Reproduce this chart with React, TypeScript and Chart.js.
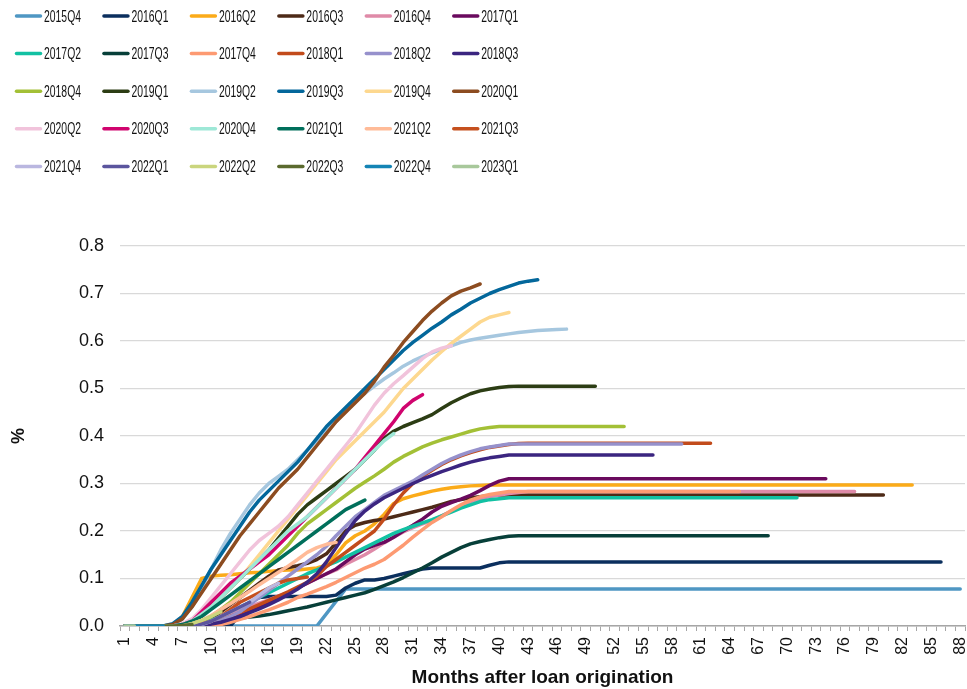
import { useEffect, useRef } from "react";
import { Chart, registerables } from "chart.js";

Chart.register(...registerables);

const FONT = '"Liberation Sans", Arial, Helvetica, sans-serif';

// Months after loan origination (categories)
const months = [
  "1","2","3","4","5","6","7","8","9","10","11","12","13","14","15","16","17","18","19","20",
  "21","22","23","24","25","26","27","28","29","30","31","32","33","34","35","36","37","38","39","40",
  "41","42","43","44","45","46","47","48","49","50","51","52","53","54","55","56","57","58","59","60",
  "61","62","63","64","65","66","67","68","69","70","71","72","73","74","75","76","77","78","79","80",
  "81","82","83","84","85","86","87","88",
];

const yTicks = [0, 0.1, 0.2, 0.3, 0.4, 0.5, 0.6, 0.7, 0.8];

const cohorts = [
  "2015Q4","2016Q1","2016Q2","2016Q3","2016Q4","2017Q1",
  "2017Q2","2017Q3","2017Q4","2018Q1","2018Q2","2018Q3",
  "2018Q4","2019Q1","2019Q2","2019Q3","2019Q4","2020Q1",
  "2020Q2","2020Q3","2020Q4","2021Q1","2021Q2","2021Q3",
  "2021Q4","2022Q1","2022Q2","2022Q3","2022Q4","2023Q1",
];

const colors = [
  "#4f97c3","#0b2f5e","#fbab19","#4d2a17","#df8aa8","#6a0a5e",
  "#12c1a3","#073f39","#fd9a72","#c24b1b","#9691cc","#3b2580",
  "#a3c036","#2c3d14","#a6c7df","#03679b","#fdd88f","#8c4c20",
  "#f1c3db","#d0046e","#9ee8d7","#006f5b","#ffbb98","#c5501e",
  "#bab7e0","#5b559e","#cad57d","#5b6a2e","#1484b5","#a8c89b",
];

const s2015Q4 = [
  0,0,0,0,0,0,0,0,0,0, 0,0,0,0,0,0,0,0,0,0, 0, null, null,
  0.078,0.078,0.078,0.078,0.078, 0.078,0.078,0.078,0.078,0.078, 0.078,0.078,0.078,0.078,0.078,
  0.078,0.078,0.078,0.078,0.078, 0.078,0.078,0.078,0.078,0.078, 0.078,0.078,0.078,0.078,0.078,
  0.078,0.078,0.078,0.078,0.078, 0.078,0.078,0.078,0.078,0.078, 0.078,0.078,0.078,0.078,0.078,
  0.078,0.078,0.078,0.078,0.078, 0.078,0.078,0.078,0.078,0.078, 0.078,0.078,0.078,0.078,0.078,
  0.078,0.078,0.078,0.078,0.078,
];
const s2016Q1 = [
  0,0,0,0,0,0,0,0,0,0, 0,0, 0.025,0.05,0.06,
  0.062,0.062,0.062,0.062,0.062,0.062,0.062,
  0.065,0.08,0.09,0.097,0.097,0.1,0.105,0.11,0.115,0.12,
  0.122,0.122,0.122,0.122,0.122,0.122, 0.128,0.133,
  0.135,0.135,0.135,0.135,0.135, 0.135,0.135,0.135,0.135,0.135, 0.135,0.135,0.135,0.135,0.135,
  0.135,0.135,0.135,0.135,0.135, 0.135,0.135,0.135,0.135,0.135, 0.135,0.135,0.135,0.135,0.135,
  0.135,0.135,0.135,0.135,0.135, 0.135,0.135,0.135,0.135,0.135, 0.135,0.135,0.135,0.135,0.135,
  0.135,
];
const s2016Q2 = [
  0,0,0,0,0,0, 0.02,0.06,0.1,0.105,0.107,0.108,0.11,0.112,0.113,0.115,0.117,0.118,0.118,0.12,
  0.122,0.128,0.15,0.175,0.19,0.2,0.215,0.235,0.258,0.268,0.274,0.279,0.284,0.288,0.291,0.293,
  0.295,0.296,
  0.297,0.297,0.297,0.297,0.297, 0.297,0.297,0.297,0.297,0.297, 0.297,0.297,0.297,0.297,0.297,
  0.297,0.297,0.297,0.297,0.297, 0.297,0.297,0.297,0.297,0.297, 0.297,0.297,0.297,0.297,0.297,
  0.297,0.297,0.297,0.297,0.297, 0.297,0.297,0.297,0.297,0.297, 0.297,0.297,0.297,0.297,0.297,
];
const s2016Q3 = [
  0,0,0,0,0,0,0,0, 0.005,0.015,0.03,0.045,0.06,0.075,0.09,0.105,0.118,0.123,0.127,0.132,
  0.14,0.152,0.175,0.2,0.212,0.218,0.222,0.225,0.23,0.235,0.24,0.245,0.25,0.256,0.262,0.266,
  0.27,0.272,0.274,
  0.276,0.276,0.276,0.276,0.276, 0.276,0.276,0.276,0.276,0.276, 0.276,0.276,0.276,0.276,0.276,
  0.276,0.276,0.276,0.276,0.276, 0.276,0.276,0.276,0.276,0.276, 0.276,0.276,0.276,0.276,0.276,
  0.276,0.276,0.276,0.276,0.276, 0.276,0.276,0.276,0.276,0.276, 0.276,
];
const s2016Q4 = [
  0,0,0,0,0,0,0,0, 0.005,0.01,0.018,0.025,0.033,0.04,0.048,0.055,0.063,0.07,0.08,0.09,
  0.1,0.11,0.118,0.13,0.14,0.15,0.162,0.175,0.187,0.198,0.207,0.215,0.222,0.232,0.242,0.252,
  0.262,0.268,0.273,0.276,0.279,0.281,
  0.283,0.283,0.283,0.283,0.283, 0.283,0.283,0.283,0.283,0.283, 0.283,0.283,0.283,0.283,0.283,
  0.283,0.283,0.283,0.283,0.283, 0.283,0.283,0.283,0.283,0.283, 0.283,0.283,0.283,0.283,0.283,
  0.283,0.283,0.283,0.283,0.283,
];
const s2017Q1 = [
  0,0,0,0,0,0,0,0,0, 0.005,0.01,0.017,0.025,0.033,0.042,0.05,0.06,0.07,0.08,0.09,
  0.1,0.11,0.12,0.135,0.15,0.162,0.17,0.176,0.187,0.2,0.212,0.225,0.24,0.252,0.26,0.267,
  0.275,0.285,0.296,0.305,
  0.31,0.31,0.31,0.31,0.31, 0.31,0.31,0.31,0.31,0.31, 0.31,0.31,0.31,0.31,0.31,
  0.31,0.31,0.31,0.31,0.31, 0.31,0.31,0.31,0.31,0.31, 0.31,0.31,0.31,0.31,0.31,
  0.31,0.31,0.31,0.31,
];
const s2017Q2 = [
  0,0,0,0,0,0,0,0, 0.005,0.012,0.02,0.03,0.04,0.05,0.06,0.07,0.08,0.09,0.1,0.11,
  0.118,0.127,0.135,0.145,0.155,0.165,0.175,0.185,0.195,0.203,0.21,0.217,0.224,0.232,0.24,0.248,
  0.255,0.262,0.266,0.268,
  0.27,0.27,0.27,0.27,0.27, 0.27,0.27,0.27,0.27,0.27, 0.27,0.27,0.27,0.27,0.27,
  0.27,0.27,0.27,0.27,0.27, 0.27,0.27,0.27,0.27,0.27, 0.27,0.27,0.27,0.27,0.27, 0.27,
];
const s2017Q3 = [
  0,0,0,0,0,0,0,0,0, 0.005,0.01,0.014,0.017,0.019,0.021,0.024,0.028,0.032,0.036,0.04,
  0.045,0.05,0.055,0.06,0.065,0.07,0.077,0.085,0.093,0.102,0.112,0.122,0.133,0.145,0.155,0.165,
  0.173,0.178,0.182,0.186,0.189,
  0.19,0.19,0.19,0.19,0.19, 0.19,0.19,0.19,0.19,0.19, 0.19,0.19,0.19,0.19,0.19,
  0.19,0.19,0.19,0.19,0.19, 0.19,0.19,0.19,0.19,0.19, 0.19,0.19,
];
const s2017Q4 = [
  0,0,0,0,0,0,0,0,0,0, 0.003,0.008,0.014,0.02,0.027,0.034,0.042,0.05,0.06,0.067,
  0.075,0.083,0.092,0.102,0.112,0.122,0.13,0.14,0.155,0.17,0.187,0.203,0.218,0.23,0.243,0.255,
  0.265,0.272,0.277,0.28,
  0.283,0.283,0.283,0.283,0.283, 0.283,0.283,0.283,0.283,0.283, 0.283,0.283,0.283,0.283,0.283,
  0.283,0.283,0.283,0.283,0.283, 0.283,0.283,0.283,0.283,0.283,
];
const s2018Q1 = [
  0,0,0,0,0,0,0,0,0, 0.005,0.012,0.02,0.028,0.036,0.045,0.054,0.063,0.072,0.082,0.092,
  0.105,0.125,0.14,0.155,0.17,0.185,0.2,0.225,0.255,0.28,0.3,0.315,0.328,0.34,0.35,0.358,
  0.365,0.371,0.376,0.379,0.382,0.384,
  0.385,0.385,0.385,0.385,0.385, 0.385,0.385,0.385,0.385,0.385,
  0.385,0.385,0.385,0.385,0.385, 0.385,0.385,0.385,0.385,0.385,
];
const s2018Q2 = [
  0,0,0,0,0,0,0,0,0, 0.005,0.012,0.02,0.03,0.045,0.06,0.075,0.09,0.105,0.12,0.135,
  0.15,0.168,0.19,0.21,0.23,0.245,0.26,0.275,0.285,0.295,0.305,0.318,0.33,0.342,0.352,0.36,
  0.367,0.373,0.377,0.38,
  0.383,0.383,0.383,0.383,0.383, 0.383,0.383,0.383,0.383,0.383,
  0.383,0.383,0.383,0.383,0.383, 0.383,0.383,0.383,0.383,
];
const s2018Q3 = [
  0,0,0,0,0,0,0,0,0, 0.004,0.008,0.014,0.02,0.028,0.036,0.045,0.055,0.066,0.078,0.092,
  0.11,0.135,0.165,0.195,0.222,0.242,0.257,0.27,0.28,0.29,0.3,0.309,0.317,0.325,0.332,0.339,
  0.345,0.35,0.354,0.357,
  0.36,0.36,0.36,0.36,0.36, 0.36,0.36,0.36,0.36,0.36, 0.36,0.36,0.36,0.36,0.36, 0.36,
];
const s2018Q4 = [
  0,0,0,0,0,0,0,0, 0.01,0.02,0.035,0.05,0.07,0.09,0.11,0.13,0.15,0.17,0.195,0.215,
  0.23,0.245,0.26,0.275,0.29,0.303,0.316,0.33,0.345,0.357,0.367,0.377,0.385,0.392,0.398,0.404,
  0.41,0.415,0.418,
  0.42,0.42,0.42,0.42,0.42, 0.42,0.42,0.42,0.42,0.42, 0.42,0.42,0.42,0.42,
];
const s2019Q1 = [
  0,0,0,0,0,0,0, 0.01,0.025,0.04,0.06,0.08,0.1,0.12,0.14,0.16,0.185,0.21,0.235,0.255,
  0.27,0.285,0.3,0.315,0.33,0.35,0.37,0.395,0.41,0.42,0.428,0.436,0.445,0.458,0.47,0.48,
  0.489,0.495,0.499,0.502,0.504,
  0.505,0.505,0.505,0.505,0.505, 0.505,0.505,0.505,0.505,
];
const s2019Q2 = [
  0,0,0,0,0, 0.003,0.015,0.04,0.08,0.12,0.16,0.195,0.225,0.255,0.28,0.3,0.315,0.33,0.35,0.37,
  0.39,0.41,0.43,0.455,0.475,0.49,0.505,0.52,0.533,0.547,0.558,0.567,0.575,0.583,0.59,0.597,
  0.602,0.606,0.609,0.612,0.615,0.618,0.62,0.622,0.623,0.624,0.625,
];
const s2019Q3 = [
  0,0,0,0,0, 0.005,0.02,0.05,0.085,0.12,0.15,0.18,0.21,0.24,0.265,0.285,0.305,0.325,0.345,0.37,
  0.395,0.42,0.44,0.46,0.48,0.5,0.52,0.54,0.56,0.58,0.597,0.612,0.627,0.64,0.655,0.667,
  0.68,0.69,0.7,0.708,0.715,0.722,0.726,0.729,
];
const s2019Q4 = [
  0,0,0,0,0,0, 0.003,0.01,0.025,0.04,0.06,0.08,0.1,0.125,0.15,0.175,0.2,0.225,0.25,0.275,
  0.3,0.325,0.35,0.37,0.39,0.41,0.43,0.45,0.475,0.5,0.52,0.54,0.56,0.578,0.595,0.61,
  0.625,0.64,0.65,0.655,0.66,
];
const s2020Q1 = [
  0,0,0,0,0, 0.003,0.015,0.04,0.07,0.1,0.13,0.16,0.19,0.215,0.24,0.265,0.29,0.31,0.33,0.355,
  0.38,0.405,0.43,0.45,0.47,0.49,0.515,0.545,0.57,0.597,0.62,0.643,0.663,0.68,0.695,0.705,
  0.712,0.72,
];
const s2020Q2 = [
  0,0,0,0,0,0, 0.005,0.015,0.035,0.06,0.085,0.11,0.135,0.16,0.18,0.195,0.21,0.23,0.255,0.28,
  0.305,0.33,0.355,0.38,0.405,0.435,0.465,0.49,0.51,0.527,0.545,0.563,0.577,0.585,0.59,
];
const s2020Q3 = [
  0,0,0,0,0,0, 0.003,0.01,0.03,0.05,0.07,0.09,0.105,0.12,0.135,0.15,0.17,0.19,0.21,0.23,
  0.25,0.27,0.29,0.31,0.33,0.355,0.38,0.405,0.43,0.458,0.475,0.487,
];
const s2020Q4 = [
  0,0,0,0,0,0, 0.003,0.01,0.025,0.04,0.06,0.08,0.1,0.12,0.14,0.16,0.18,0.2,0.215,0.23,
  0.25,0.27,0.29,0.31,0.33,0.35,0.37,0.39,0.405,
];
const s2021Q1 = [
  0,0,0,0,0,0, 0.003,0.01,0.02,0.035,0.05,0.065,0.08,0.095,0.11,0.125,0.14,0.155,0.17,0.185,
  0.2,0.215,0.23,0.245,0.255,0.265,
];
const s2021Q2 = [
  0,0,0,0,0,0,0, 0.005,0.012,0.022,0.035,0.047,0.06,0.073,0.087,0.1,0.113,0.126,0.14,0.155,
  0.165,0.172,0.176,
];
const s2021Q3 = [
  0,0,0,0,0,0,0,0, 0.005,0.01,0.02,0.035,0.05,0.06,0.07,0.08,0.09,0.097,0.1,0.103,
];
const s2021Q4 = [0,0,0,0,0,0,0,0, 0.003,0.01,0.02,0.03,0.04,0.05,0.065,0.08,0.09];
const s2022Q1 = [0,0,0,0,0,0,0,0, 0.004,0.01,0.02,0.03,0.04,0.05];
const s2022Q2 = [0,0,0,0,0,0,0, 0.005,0.012,0.02,0.03];
const s2022Q3 = [0,0,0,0,0,0, 0.001,0.003];
const s2022Q4 = [0,0,0,0,0];
const s2023Q1 = [0,0];

const seriesValues = [
  s2015Q4, s2016Q1, s2016Q2, s2016Q3, s2016Q4, s2017Q1,
  s2017Q2, s2017Q3, s2017Q4, s2018Q1, s2018Q2, s2018Q3,
  s2018Q4, s2019Q1, s2019Q2, s2019Q3, s2019Q4, s2020Q1,
  s2020Q2, s2020Q3, s2020Q4, s2021Q1, s2021Q2, s2021Q3,
  s2021Q4, s2022Q1, s2022Q2, s2022Q3, s2022Q4, s2023Q1,
];

const gridLegend = {
  id: "gridLegend",
  afterDraw(chart: any) {
    const ctx = chart.ctx;
    ctx.save();
    chart.data.datasets.forEach((ds: any, i: number) => {
      const col = i % 6;
      const row = Math.floor(i / 6);
      const x = 15 + col * 87.45;
      const y = 16 + row * 37.6;
      ctx.strokeStyle = ds.borderColor;
      ctx.lineWidth = 3.5;
      ctx.lineCap = "round";
      ctx.beginPath();
      ctx.moveTo(x + 1.5, y);
      ctx.lineTo(x + 25.5, y);
      ctx.stroke();
      ctx.font = `17px ${FONT}`;
      ctx.fillStyle = "#111";
      ctx.textBaseline = "middle";
      ctx.textAlign = "left";
      const w = ctx.measureText(ds.label).width;
      const sx = 37 / w;
      ctx.save();
      ctx.translate(x + 29, y + 1);
      ctx.scale(sx, 1);
      ctx.fillText(ds.label, 0, 0);
      ctx.restore();
    });
    ctx.restore();
  },
};

export default function App() {
  const ref = useRef<HTMLCanvasElement | null>(null);

  useEffect(() => {
    if (!ref.current) return;
    Chart.defaults.font.family = FONT;
    const n = cohorts.length;
    const chart = new Chart(ref.current, {
      type: "line",
      data: {
        labels: months,
        datasets: cohorts.map((name, i) => ({
          label: name,
          data: seriesValues[i],
          borderColor: colors[i],
          backgroundColor: colors[i],
          borderWidth: 3.5,
          pointRadius: 0,
          tension: 0,
          fill: false,
          spanGaps: true,
          borderCapStyle: "round",
          borderJoinStyle: "round",
          order: n - i,
        })),
      },
      options: {
        animation: false,
        responsive: false,
        maintainAspectRatio: false,
        layout: { padding: { top: 246, right: 2, left: 0, bottom: 0 } },
        plugins: { legend: { display: false }, tooltip: { enabled: false } },
        scales: {
          x: {
            type: "category",
            offset: true,
            grid: {
              offset: true,
              drawOnChartArea: false,
              drawTicks: true,
              tickLength: 5,
              color: "#a6a6a6",
              lineWidth: 1,
            },
            border: { display: true, color: "#a6a6a6", width: 1.5 },
            ticks: {
              autoSkip: false,
              maxRotation: 90,
              minRotation: 90,
              padding: 6,
              color: "#111",
              font: { size: 16 },
              callback: function (this: any, v: any, i: number) {
                return i % 3 === 0 ? this.getLabelForValue(v) : "";
              },
            },
            title: {
              display: true,
              text: "Months after loan origination",
              color: "#111",
              font: { size: 19, weight: "bold" },
              padding: { top: 0, bottom: 0 },
            },
            afterFit: (s: any) => {
              s.height = 63;
              s.paddingLeft = 0;
              s.paddingRight = 0;
            },
          },
          y: {
            min: 0,
            max: 0.8,
            afterBuildTicks: (s: any) => {
              s.ticks = yTicks.map((v) => ({ value: v }));
            },
            ticks: {
              padding: 16,
              color: "#111",
              font: { size: 18 },
              callback: (v: any) => Number(v).toFixed(1),
            },
            grid: { color: "#d9d9d9", lineWidth: 1.3, drawTicks: false },
            border: { display: false },
            title: {
              display: true,
              text: "%",
              color: "#111",
              font: { size: 18, weight: "bold" },
              padding: { top: 8, bottom: 0 },
            },
            afterFit: (s: any) => {
              s.width = 120;
            },
          },
        },
      },
      plugins: [gridLegend],
    } as any);
    return () => chart.destroy();
  }, []);

  return (
    <div style={{ position: "fixed", left: 0, top: 0, width: 967, height: 689, background: "#fff" }}>
      <canvas ref={ref} width={967} height={689} style={{ display: "block", width: 967, height: 689 }} />
    </div>
  );
}
